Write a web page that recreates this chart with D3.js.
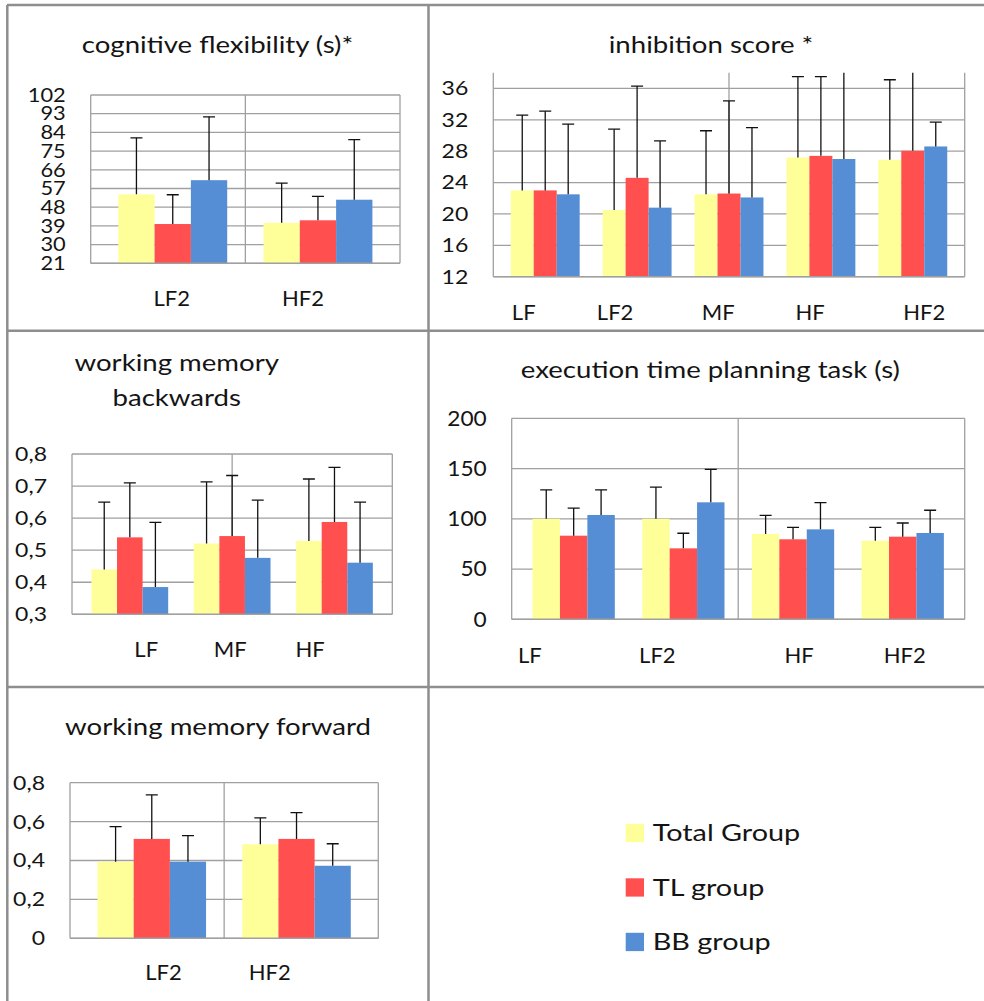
<!DOCTYPE html>
<html>
<head>
<meta charset="utf-8">
<script src="https://cdn.jsdelivr.net/npm/d3@7"></script>
<style>
  body { margin: 0; background: #fff; }
  svg text { font-family: Lato, "Open Sans", sans-serif; fill: #141414; }
</style>
</head>
<body>
<div id="chart"></div>
<script>
// groups shown in every panel
const seriesNames = ["Total Group", "TL group", "BB group"];
const seriesColors = ["#ffff99", "#ff4f4f", "#558ed5"];

// cognitive flexibility (s)*
const cogCats = ["LF2", "HF2"];
const cogMeans = [[54.2, 39.9, 61.0], [40.5, 41.7, 51.6]];
const cogSD = [[27.2, 14.1, 30.5], [19.1, 11.5, 28.9]];
const cogTicks = [21, 30, 39, 48, 57, 66, 75, 84, 93, 102];

// inhibition score *
const inhCats = ["LF", "LF2", "MF", "HF", "HF2"];
const inhMeans = [[23.0, 23.0, 22.5], [20.5, 24.6, 20.8], [22.5, 22.6, 22.1], [27.2, 27.4, 27.0], [26.9, 28.05, 28.6]];
const inhSD = [[9.6, 10.1, 8.95], [10.3, 11.7, 8.5], [8.1, 11.8, 8.9], [10.3, 10.1, 11.5], [10.2, 11.5, 3.1]];
const inhTicks = [12, 16, 20, 24, 28, 32, 36];

// working memory backwards
const wmbCats = ["LF", "MF", "HF"];
const wmbMeans = [[0.44, 0.54, 0.385], [0.521, 0.544, 0.476], [0.529, 0.588, 0.461]];
const wmbSD = [[0.21, 0.17, 0.202], [0.192, 0.189, 0.18], [0.193, 0.17, 0.189]];
const wmbTicks = [0.3, 0.4, 0.5, 0.6, 0.7, 0.8];

// execution time planning task (s)
const exeCats = ["LF", "LF2", "HF", "HF2"];
const exeMeans = [[100, 83.2, 103.8], [100, 70.6, 116.4], [84.9, 79.6, 89.5], [78.2, 82.2, 85.9]];
const exeSD = [[28.7, 27.5, 24.9], [31.6, 15.0, 32.8], [18.6, 11.9, 26.5], [13.3, 13.6, 22.6]];
const exeTicks = [0, 50, 100, 150, 200];

// working memory forward
const wmfCats = ["LF2", "HF2"];
const wmfMeans = [[0.394, 0.511, 0.394], [0.483, 0.511, 0.373]];
const wmfSD = [[0.18, 0.226, 0.134], [0.136, 0.135, 0.113]];
const wmfTicks = [0, 0.2, 0.4, 0.6, 0.8];

const width = 984, height = 1001;
const gridColor = "#a0a0a0";
const frameColor = "#8e8e8e";
const commaFmt = d3.formatLocale({ decimal: ",", thousands: ".", grouping: [3], currency: ["", ""] }).format(".1~f");

// the source text is a little wider than Lato, so stretch it horizontally
const titleStretch = 1.2;
const legendStretch = 1.2;

const svg = d3.select("#chart")
  .append("svg")
    .attr("width", width)
    .attr("height", height);

// panel frames
const frame = [
  [7, 5, width, 5], [7, 330.7, width, 330.7], [7, 687, width, 687],
  [7.3, 5, 7.3, height], [428.5, 5, 428.5, height]
];
svg.selectAll("line.frame")
  .data(frame)
  .join("line")
    .attr("class", "frame")
    .attr("x1", d => d[0]).attr("y1", d => d[1])
    .attr("x2", d => d[2]).attr("y2", d => d[3])
    .attr("stroke", frameColor)
    .attr("stroke-width", 2.5);

const panels = [
  { id: "cog", title: ["cognitive flexibility (s)*"], tx: 217.5, ty: [53],
    cats: cogCats, means: cogMeans, sd: cogSD, ticks: cogTicks, domain: [21, 102],
    x0: 90.7, x1: 400, y0: 95, y1: 263.3, labelY: 306, shift: [-1, -15],
    fmt: d3.format("d"), tickSize: 19.5, tickStretch: 1.12 },
  { id: "inh", title: ["inhibition score *"], tx: 711, ty: [53.3],
    cats: inhCats, means: inhMeans, sd: inhSD, ticks: inhTicks, domain: [12, 38],
    x0: 493.3, x1: 964.7, y0: 72.7, y1: 276.7, labelY: 319.5, shift: [-21.5, -22, -10.7, -10.7, 11.5],
    fmt: d3.format("d"), tickSize: 20, tickStretch: 1.15 },
  { id: "wmb", title: ["working memory", "backwards"], tx: 176.7, ty: [370.7, 406],
    cats: wmbCats, means: wmbMeans, sd: wmbSD, ticks: wmbTicks, domain: [0.3, 0.8],
    x0: 72, x1: 392.3, y0: 454, y1: 614.3, labelY: 656.7, shift: [16.4, -2, -24.3],
    fmt: commaFmt, tickSize: 20, tickStretch: 1.15 },
  { id: "exe", title: ["execution time planning task (s)"], tx: 710.3, ty: [377.7],
    cats: exeCats, means: exeMeans, sd: exeSD, ticks: exeTicks, domain: [0, 200],
    x0: 511.7, x1: 964.7, y0: 418.3, y1: 619.3, labelY: 662.7, shift: [-43.8, -26, 6, 2],
    fmt: d3.format("d"), tickSize: 21, tickStretch: 1.08 },
  { id: "wmf", title: ["working memory forward"], tx: 218, ty: [735],
    cats: wmfCats, means: wmfMeans, sd: wmfSD, ticks: wmfTicks, domain: [0, 0.8],
    x0: 70, x1: 378.3, y0: 782.7, y1: 938.3, labelY: 980, shift: [11.7, -26.7],
    fmt: commaFmt, tickSize: 20, tickStretch: 1.15 }
];

function drawPanel(p) {
  const g = svg.append("g").attr("class", "panel-" + p.id);

  const y = d3.scaleLinear().domain(p.domain).range([p.y1, p.y0]);
  const x = d3.scaleBand().domain(p.cats).range([p.x0, p.x1])
    .paddingInner(0.25).paddingOuter(0.19);
  const xs = d3.scaleBand().domain(seriesNames).range([0, x.bandwidth()]);
  const color = d3.scaleOrdinal().domain(seriesNames).range(seriesColors);

  g.append("clipPath").attr("id", "clip-" + p.id)
    .append("rect")
      .attr("x", p.x0 - 10).attr("y", p.y0)
      .attr("width", p.x1 - p.x0 + 20).attr("height", p.y1 - p.y0 + 5);

  // horizontal gridlines
  g.selectAll("line.hgrid")
    .data(p.ticks)
    .join("line")
      .attr("class", "hgrid")
      .attr("x1", p.x0).attr("x2", p.x1)
      .attr("y1", d => y(d)).attr("y2", d => y(d))
      .attr("stroke", gridColor).attr("stroke-width", 1.3);

  // vertical gridlines: left, middle, right
  g.selectAll("line.vgrid")
    .data([0, 0.5, 1])
    .join("line")
      .attr("class", "vgrid")
      .attr("x1", d => p.x0 + d * (p.x1 - p.x0))
      .attr("x2", d => p.x0 + d * (p.x1 - p.x0))
      .attr("y1", p.y0).attr("y2", p.y1)
      .attr("stroke", gridColor).attr("stroke-width", 1.3);

  const rows = p.cats.flatMap((c, i) =>
    seriesNames.map((s, j) => ({ cat: c, series: s, value: p.means[i][j], sd: p.sd[i][j] })));

  g.selectAll("rect.bar")
    .data(rows)
    .join("rect")
      .attr("class", "bar")
      .attr("x", d => x(d.cat) + xs(d.series))
      .attr("y", d => y(d.value))
      .attr("width", xs.bandwidth())
      .attr("height", d => y(p.domain[0]) - y(d.value))
      .attr("fill", d => color(d.series));

  // baseline over the bars
  g.append("line")
    .attr("x1", p.x0).attr("x2", p.x1)
    .attr("y1", y(p.domain[0])).attr("y2", y(p.domain[0]))
    .attr("stroke", gridColor).attr("stroke-width", 1.5);

  // upper error bars
  const err = g.append("g").attr("clip-path", `url(#clip-${p.id})`);
  const cx = d => x(d.cat) + xs(d.series) + xs.bandwidth() / 2;
  err.selectAll("line.err")
    .data(rows)
    .join("line")
      .attr("class", "err")
      .attr("x1", cx).attr("x2", cx)
      .attr("y1", d => y(d.value)).attr("y2", d => y(d.value + d.sd))
      .attr("stroke", "#111").attr("stroke-width", 1.3);
  err.selectAll("line.cap")
    .data(rows)
    .join("line")
      .attr("class", "cap")
      .attr("x1", d => cx(d) - 6).attr("x2", d => cx(d) + 6)
      .attr("y1", d => y(d.value + d.sd)).attr("y2", d => y(d.value + d.sd))
      .attr("stroke", "#111").attr("stroke-width", 1.3);

  // value axis
  const axis = g.append("g")
    .attr("transform", `translate(${p.x0},0)`)
    .call(d3.axisLeft(y).tickValues(p.ticks).tickFormat(p.fmt).tickSize(0).tickPadding(25));
  axis.select(".domain").remove();
  axis.selectAll("text")
    .attr("x", 0)
    .attr("transform", `translate(-25,0) scale(${p.tickStretch},1)`)
    .style("font-family", "Lato, 'Open Sans', sans-serif")
    .style("font-size", p.tickSize + "px")
    .attr("fill", "#141414");

  // category labels
  g.selectAll("text.cat")
    .data(p.cats)
    .join("text")
      .attr("class", "cat")
      .attr("x", (d, i) => x(d) + x.bandwidth() / 2 + p.shift[i])
      .attr("y", p.labelY)
      .attr("text-anchor", "middle")
      .style("font-size", "22px")
      .text(d => d);

  // title
  g.selectAll("text.title")
    .data(p.title)
    .join("text")
      .attr("class", "title")
      .attr("transform", (d, i) => `translate(${p.tx},${p.ty[i]}) scale(${titleStretch},1)`)
      .attr("text-anchor", "middle")
      .style("font-size", "23px")
      .text(d => d);
}

panels.forEach(drawPanel);

// legend
const legendY = d3.scalePoint().domain(seriesNames).range([833, 942]);
const legend = svg.append("g").attr("class", "legend");
legend.selectAll("rect")
  .data(seriesNames)
  .join("rect")
    .attr("x", 625.7)
    .attr("y", d => legendY(d) - 9.2)
    .attr("width", 18.3).attr("height", 18.3)
    .attr("fill", (d, i) => seriesColors[i]);
legend.selectAll("text")
  .data(seriesNames)
  .join("text")
    .attr("transform", d => `translate(652.7,${legendY(d) + 8}) scale(${legendStretch},1)`)
    .style("font-size", "24px")
    .text(d => d);
</script>
</body>
</html>
